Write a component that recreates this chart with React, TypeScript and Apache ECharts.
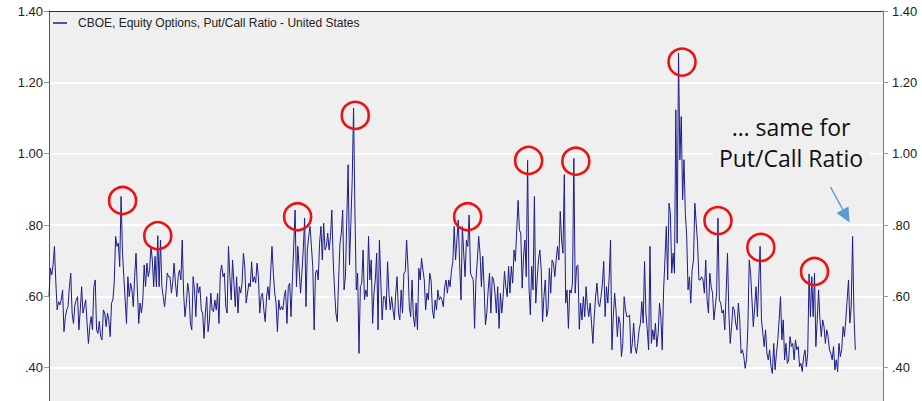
import React, { useEffect, useRef } from 'react';
import * as echarts from 'echarts';

// CBOE equity put/call ratio, read left to right from the picture
const seg1 = [0.601,0.679,0.660,0.688,0.740,0.641,0.562,0.585,0.576,0.590,0.618,0.501,0.540,0.562,0.571,0.627,0.665,0.553,0.524,0.575,0.590,0.599,0.506,0.562,0.627,0.553,0.571,0.590,0.524,0.468,0.515,0.543,0.506,0.627,0.646,0.506,0.496,0.530,0.487,0.478,0.562,0.553,0.515,0.553,0.534,0.487,0.581,0.590,0.640,0.768,0.740,0.749,0.683,0.880,0.730,0.655,0.590,0.524,0.655,0.599,0.637,0.618,0.571,0.655,0.721,0.618,0.524,0.581,0.553,0.590,0.688,0.627,0.693,0.655,0.674,0.740,0.702,0.627,0.712,0.627,0.770,0.627,0.758,0.627,0.599,0.571,0.610,0.665,0.655,0.655,0.609,0.637,0.693,0.637,0.599,0.655,0.674,0.646,0.758,0.609,0.543,0.580,0.637,0.609,0.524,0.506,0.655,0.618,0.543,0.637,0.609];
const seg2 = [0.627,0.562,0.553,0.482,0.553,0.599,0.501,0.534,0.609,0.562,0.557,0.590,0.562,0.609,0.524,0.665,0.688,0.655,0.665,0.571,0.553,0.740,0.655,0.590,0.702,0.637,0.571,0.655,0.553,0.627,0.609,0.637,0.721,0.683,0.581,0.609,0.637,0.627,0.697,0.640,0.655,0.637,0.693,0.655,0.553,0.599,0.609,0.562,0.529,0.599,0.627,0.590,0.665,0.740,0.665,0.609,0.581,0.501,0.590,0.562,0.571,0.562,0.600,0.618,0.524,0.627,0.637,0.543,0.646,0.740,0.842,0.627,0.740,0.674,0.609,0.665,0.730,0.819,0.571,0.730,0.768,0.796,0.740,0.683,0.506,0.665,0.674,0.646,0.749,0.796,0.702,0.805,0.730,0.740,0.777,0.730,0.768,0.842,0.702,0.618,0.553,0.529,0.646,0.749,0.777,0.842,0.618,0.655,0.814];
const seg3 = [0.969,0.688,0.805,0.927,1.128,0.833,0.618,0.665,0.440,0.627,0.637,0.730,0.590,0.618,0.599,0.768,0.646,0.702,0.524,0.609,0.646,0.721,0.506,0.758,0.646,0.534,0.599,0.599,0.562,0.697,0.609,0.562,0.599,0.562,0.534,0.609,0.655,0.553,0.534,0.618,0.553,0.665,0.669,0.758,0.683,0.571,0.543,0.646,0.543,0.515,0.581,0.506,0.679,0.646,0.707,0.674,0.646,0.562,0.609,0.590,0.665,0.646,0.562,0.538,0.590,0.562,0.618,0.590,0.599,0.590,0.571,0.627,0.646,0.609,0.646,0.627,0.674,0.697,0.796,0.702,0.758,0.814,0.693,0.590,0.796,0.721,0.655,0.758,0.740,0.828,0.665,0.655,0.646,0.510,0.646,0.700,0.768,0.721,0.627,0.712,0.627,0.520,0.553,0.618,0.665,0.553,0.655,0.646,0.609,0.553,0.627];
const seg4 = [0.510,0.609,0.553,0.599,0.670,0.627,0.599,0.684,0.609,0.684,0.637,0.730,0.698,0.786,0.869,0.786,0.777,0.623,0.712,0.758,0.655,0.981,0.627,0.548,0.684,0.618,0.880,0.581,0.646,0.702,0.730,0.674,0.529,0.599,0.646,0.543,0.562,0.679,0.609,0.702,0.693,0.655,0.702,0.740,0.702,0.838,0.758,0.721,0.941,0.581,0.618,0.510,0.618,0.609,0.637,0.987,0.609,0.684,0.688,0.508,0.581,0.534,0.599,0.543,0.627,0.571,0.543,0.581,0.525,0.468,0.543,0.599,0.637,0.581,0.571,0.599,0.637,0.698,0.543,0.627,0.581,0.655,0.758,0.450,0.543,0.609,0.562,0.487,0.543,0.525,0.431,0.468,0.599,0.562,0.543,0.543,0.548,0.440,0.468,0.525,0.459,0.440,0.468,0.506,0.525,0.585,0.525,0.698,0.553,0.506];
const seg5 = [0.450,0.740,0.468,0.506,0.478,0.525,0.459,0.496,0.581,0.543,0.450,0.618,0.702,0.796,0.646,0.861,0.833,0.665,0.721,0.665,1.123,0.749,1.282,0.983,1.104,0.871,0.983,0.833,0.768,0.618,0.655,0.581,0.674,0.702,0.861,0.805,0.749,0.646,0.646,0.655,0.646,0.609,0.702,0.590,0.553,0.665,0.627,0.609,0.534,0.571,0.609,0.819,0.590,0.581,0.553,0.562,0.506,0.609,0.721,0.553,0.468,0.515,0.571,0.562,0.525,0.506,0.581,0.534,0.440,0.450,0.431,0.398,0.422,0.515,0.702,0.665,0.590,0.515,0.571];
const seg6 = [0.627,0.543,0.646,0.740,0.534,0.497,0.459,0.506,0.440,0.422,0.450,0.403,0.384,0.468,0.394,0.440,0.478,0.534,0.599,0.478,0.534,0.422,0.468,0.412,0.422,0.487,0.459,0.468,0.422,0.478,0.450,0.459,0.403,0.412,0.389,0.431,0.450,0.403,0.440,0.663,0.543,0.655,0.543,0.665,0.459,0.534,0.618,0.534,0.487,0.534,0.515,0.468,0.506,0.487,0.450,0.440,0.422,0.459,0.394,0.422,0.389,0.468,0.431,0.450,0.515,0.487,0.534,0.590,0.646,0.525,0.571,0.768,0.553,0.450];

const ratioValues = [...seg1, ...seg2, ...seg3, ...seg4, ...seg5, ...seg6];
const seriesName = 'CBOE, Equity Options, Put/Call Ratio - United States';
// peaks that are circled in red, in order
const circledPeaks = [0.880, 0.770, 0.842, 1.128, 0.828, 0.981, 0.987, 1.282, 0.819, 0.740, 0.665];
const circleOffsets = [[1.5, 4], [0, 0], [2.5, 6.7], [1.7, 7.4], [-1.5, 1.7], [1, 0], [2, 3], [3.5, 9], [0, 2.4], [0.7, 1], [0, -1.6]];
const annotationLines = ['\u2026 same for', 'Put/Call Ratio'];

export default function App() {
  const ref = useRef<HTMLDivElement>(null);
  useEffect(() => {
    if (!ref.current) return;
    const chart = echarts.init(ref.current, null, { renderer: 'svg' });
    const N = ratioValues.length;
    const data = ratioValues.map((v, i) => [i, v]);
    const peakIdx: number[] = [];
    let from = 0;
    for (const p of circledPeaks) {
      const k = ratioValues.findIndex((v, i) => i >= from && Math.abs(v - p) < 1e-9);
      peakIdx.push(k);
      from = k + 1;
    }
    const plotLeft = 49, plotRight = 883, lastX = 855.3;
    const xMax = ((N - 1) * (plotRight - plotLeft)) / (lastX - plotLeft);
    const fmt = (v: number) => {
      const s = v.toFixed(2);
      return s.startsWith('0') ? s.slice(1) : s;
    };
    const fontFamily = "'Liberation Sans Narrow', 'Arial Narrow', 'Liberation Sans', Arial, sans-serif";
    const labelFont = { fontFamily, fontSize: 13, color: '#222' };
    const yCommon: any = {
      type: 'value',
      min: 0.2,
      max: 1.4,
      interval: 0.2,
      axisLine: { show: true, lineStyle: { color: '#555', width: 1 } },
      axisTick: { show: true, length: 5, lineStyle: { color: '#999' } },
      splitLine: { show: true, showMaxLine: false, lineStyle: { color: '#ffffff', width: 2 } },
    };
    const lineColor = '#1c1c8c';
    const arrowColor = '#5b9bd5';
    const textFont = '23px "Open Sans", "Noto Sans", sans-serif';
    chart.setOption({
      animation: false,
      backgroundColor: '#ffffff',
      grid: {
        left: plotLeft,
        top: 11,
        width: plotRight - plotLeft,
        height: 428,
        outerBoundsMode: 'none',
        containLabel: false,
        show: true,
        backgroundColor: '#efefef',
        borderWidth: 0,
      },
      legend: {
        show: true,
        left: 53,
        top: 17,
        padding: 0,
        icon: 'rect',
        itemWidth: 14,
        itemHeight: 1.5,
        data: [seriesName],
        textStyle: { fontFamily, fontSize: 12, color: '#222', padding: [0, 0, 0, 6] },
      },
      xAxis: {
        type: 'value',
        min: 0,
        max: xMax,
        position: 'top',
        axisLine: { show: true, onZero: false, lineStyle: { color: '#333', width: 1 } },
        axisTick: { show: false },
        axisLabel: { show: false },
        splitLine: { show: false },
      },
      yAxis: [
        { ...yCommon, position: 'left', axisLabel: { ...labelFont, margin: 6, showMinLabel: false, formatter: fmt } },
        { ...yCommon, position: 'right', splitLine: { show: false }, axisLine: { show: true, lineStyle: { color: '#777', width: 1 } }, axisLabel: { ...labelFont, margin: 9, showMinLabel: false, formatter: fmt } },
      ],
      series: [
        {
          type: 'line',
          name: seriesName,
          data,
          symbol: 'none',
          showSymbol: false,
          lineStyle: { color: lineColor, width: 1 },
          itemStyle: { color: lineColor },
          markPoint: {
            symbol: 'circle',
            symbolSize: 27,
            silent: true,
            label: { show: false },
            itemStyle: { color: 'rgba(0,0,0,0)', borderColor: '#ee1111', borderWidth: 2.6 },
            data: peakIdx.map((k, j) => ({ coord: [k, ratioValues[k]], symbolOffset: circleOffsets[j] })),
          },
        },
      ],
      graphic: [
        {
          type: 'rect',
          shape: { x: 713, y: 113, width: 157, height: 60 },
          style: { fill: '#efefef' },
          z: 10,
        },
        {
          type: 'text',
          x: 791,
          y: 127,
          z: 11,
          style: { text: annotationLines[0], font: textFont, fill: '#111', align: 'center', verticalAlign: 'middle', textAlign: 'center', textVerticalAlign: 'middle' },
        },
        {
          type: 'text',
          x: 791,
          y: 158,
          z: 11,
          style: { text: annotationLines[1], font: textFont, fill: '#111', align: 'center', verticalAlign: 'middle', textAlign: 'center', textVerticalAlign: 'middle' },
        },
        {
          type: 'line',
          shape: { x1: 830.5, y1: 187, x2: 843, y2: 210 },
          style: { stroke: arrowColor, lineWidth: 1.5 },
        },
        {
          type: 'polygon',
          shape: { points: [[849.5, 222.5], [836.5, 213], [848.5, 206.5]] },
          style: { fill: arrowColor },
        },
      ],
    });
    return () => chart.dispose();
  }, []);
  return <div ref={ref} style={{ position: 'absolute', left: 0, top: 0, width: 922, height: 401 }} />;
}
